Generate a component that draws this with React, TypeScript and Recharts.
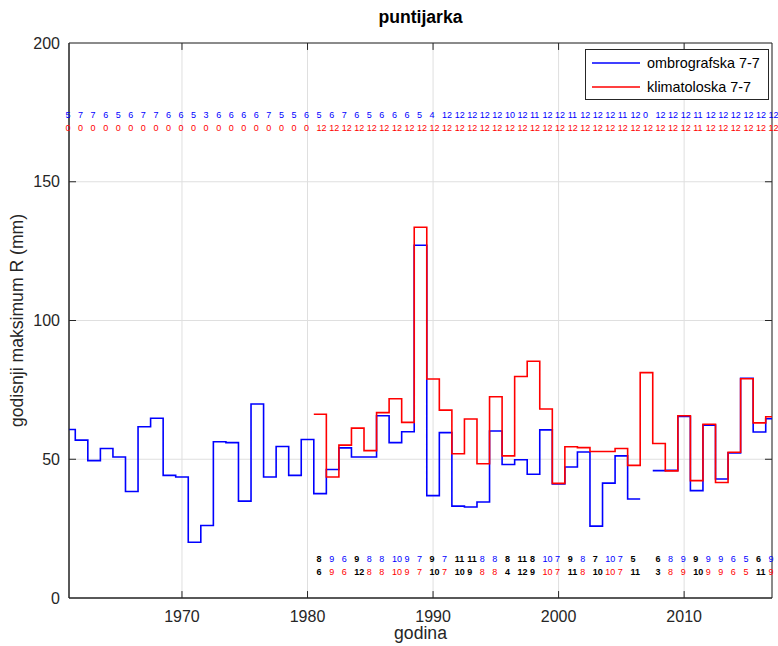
import {
  CartesianGrid,
  ComposedChart,
  Line,
  ReferenceArea,
  ReferenceLine,
  Scatter,
  XAxis,
  YAxis,
} from 'recharts';

const FONT = '"Liberation Sans", Arial, Helvetica, sans-serif';
const AXIS = '#262626';
const BLUE = '#0000ff';
const RED = '#ff0000';
const X_MIN = 1961;
const X_MAX = 2017;

const YEARS = [
  1961, 1962, 1963, 1964, 1965, 1966, 1967, 1968, 1969, 1970,
  1971, 1972, 1973, 1974, 1975, 1976, 1977, 1978, 1979, 1980,
  1981, 1982, 1983, 1984, 1985, 1986, 1987, 1988, 1989, 1990,
  1991, 1992, 1993, 1994, 1995, 1996, 1997, 1998, 1999, 2000,
  2001, 2002, 2003, 2004, 2005, 2006, 2007, 2008, 2009, 2010,
  2011, 2012, 2013, 2014, 2015, 2016, 2017,
];

// godisnji maksimum R (mm)
const OMBRO = [
  60.7, 56.9, 49.5, 53.9, 50.8, 38.4, 61.7, 64.8, 44.2, 43.6,
  20.1, 26.1, 56.3, 56.0, 34.9, 69.9, 43.6, 54.6, 44.2, 57.1,
  37.6, 46.3, 54.1, 50.8, 50.8, 65.7, 56.0, 59.9, 127.1, 36.9,
  59.6, 33.1, 32.8, 34.6, 60.2, 48.1, 49.8, 44.6, 60.6, 41.1,
  47.2, 52.6, 25.9, 41.4, 51.2, 35.7, null, 45.9, 46.0, 65.4,
  38.7, 62.3, 42.9, 52.3, 79.2, 59.8, 64.6,
];
const KLIMA = [
  null, null, null, null, null, null, null, null, null, null,
  null, null, null, null, null, null, null, null, null, null,
  66.2, 43.6, 55.1, 61.2, 53.1, 66.8, 71.8, 63.3, 133.6, 78.9,
  67.7, 52.0, 64.5, 48.4, 72.5, 51.2, 79.8, 85.3, 68.1, 41.3,
  54.5, 54.2, 52.8, 52.8, 53.9, 47.8, 81.2, 55.7, 45.8, 65.7,
  42.3, 62.6, 41.6, 52.5, 79.0, 63.1, 65.3,
];

// broj mjeseci s podacima
const OMBRO_MONTHS = [
  5, 7, 7, 6, 5, 6, 7, 7, 6, 6, 5, 3, 6, 6, 6, 6, 7, 5, 5, 6,
  5, 6, 7, 6, 5, 6, 6, 6, 5, 4, 12, 12, 12, 12, 12, 10, 12, 11, 12, 12,
  11, 12, 12, 12, 11, 12, 0, 12, 12, 12, 11, 12, 12, 12, 12, 12, 12,
];
const KLIMA_MONTHS = [
  0, 0, 0, 0, 0, 0, 0, 0, 0, 0, 0, 0, 0, 0, 0, 0, 0, 0, 0, 0,
  12, 12, 12, 12, 12, 12, 12, 12, 12, 12, 12, 12, 12, 12, 12, 12, 12, 12, 12, 12,
  12, 12, 12, 12, 12, 12, 12, 12, 12, 12, 11, 12, 12, 12, 12, 12, 12,
];

// mjesec pojave maksimuma
const OMBRO_MAXMONTH = [
  null, null, null, null, null, null, null, null, null, null,
  null, null, null, null, null, null, null, null, null, null,
  8, 9, 6, 9, 8, 8, 10, 9, 7, 9, 7, 11, 11, 8, 8, 8, 11, 8, 10, 7,
  9, 8, 7, 10, 7, 5, null, 6, 8, 9, 9, 9, 9, 6, 5, 6, 9,
];
const KLIMA_MAXMONTH = [
  null, null, null, null, null, null, null, null, null, null,
  null, null, null, null, null, null, null, null, null, null,
  6, 9, 6, 12, 8, 8, 10, 9, 7, 10, 7, 10, 9, 8, 8, 4, 12, 9, 10, 7,
  11, 8, 10, 10, 7, 11, null, 3, 8, 9, 10, 9, 9, 6, 5, 11, 9,
];

const X_TICKS = [1970, 1980, 1990, 2000, 2010];
const Y_TICKS = [0, 50, 100, 150, 200];
const ROW_Y = { topBlue: 175, topRed: 170, botBlue: 15, botRed: 10 };

function stairs(vals: Array<number | null>) {
  const pts: Array<{ x: number; y: number | null }> = [];
  YEARS.forEach((yr, i) => {
    const v = vals[i];
    if (v == null) {
      pts.push({ x: yr, y: null });
      return;
    }
    pts.push({ x: Math.max(yr - 0.5, X_MIN), y: v });
    pts.push({ x: Math.min(yr + 0.5, X_MAX), y: v });
  });
  return pts;
}

const ombroSteps = stairs(OMBRO);
const klimaSteps = stairs(KLIMA);

type Lbl = { x: number; y: number; label: string; color: string; bold: boolean };

const topBlue: Lbl[] = YEARS.map((yr, i) => ({ x: yr, y: ROW_Y.topBlue, label: String(OMBRO_MONTHS[i]), color: BLUE, bold: false }));
const topRed: Lbl[] = YEARS.map((yr, i) => ({ x: yr, y: ROW_Y.topRed, label: String(KLIMA_MONTHS[i]), color: RED, bold: false }));
const botBlue: Lbl[] = [];
const botRed: Lbl[] = [];
YEARS.forEach((yr, i) => {
  const b = OMBRO_MAXMONTH[i];
  const r = KLIMA_MAXMONTH[i];
  if (b == null || r == null) return;
  const same = b === r;
  botBlue.push({ x: yr, y: ROW_Y.botBlue, label: String(b), color: same ? BLUE : '#000', bold: !same });
  botRed.push({ x: yr, y: ROW_Y.botRed, label: String(r), color: same ? RED : '#000', bold: !same });
});

const LabelShape = (props: any) => {
  const { cx, cy, payload } = props;
  return (
    <text
      x={cx - 3.5}
      y={cy + 5.2}
      fontSize={9}
      fontFamily={FONT}
      fill={payload.color}
      fontWeight={payload.bold ? 700 : 400}
    >
      {payload.label}
    </text>
  );
};

const YearTick = (props: any) => {
  const { x, y, payload } = props;
  return (
    <text x={x} y={y + 24} textAnchor="middle" fontSize={16} fontFamily={FONT} fill={AXIS}>
      {payload.value}
    </text>
  );
};

export default function App() {
  return (
    <div style={{ position: 'absolute', left: 0, top: 0, width: 778, height: 646, background: '#fff' }}>
      <ComposedChart width={778} height={646} margin={{ top: 43, right: 6, bottom: 0, left: 0 }}>
        <CartesianGrid stroke="#dfdfdf" strokeWidth={1} />
        <XAxis
          type="number"
          dataKey="x"
          domain={[X_MIN, X_MAX]}
          ticks={X_TICKS}
          height={48}
          axisLine={{ stroke: AXIS }}
          tickLine={false}
          tickSize={0}
          tickMargin={0}
          tick={YearTick}
          label={{ value: 'godina', position: 'insideBottom', offset: 7, fill: AXIS, fontSize: 17.6, fontFamily: FONT }}
        />
        <YAxis
          type="number"
          domain={[0, 200]}
          ticks={Y_TICKS}
          width={69}
          axisLine={{ stroke: AXIS }}
          tickLine={false}
          tickSize={4}
          tickMargin={5}
          tick={{ fill: AXIS, fontSize: 16, fontFamily: FONT }}
          label={{
            value: 'godisnji maksimum R (mm)',
            angle: -90,
            position: 'insideLeft',
            offset: 17,
            fill: AXIS,
            fontSize: 17.6,
            fontFamily: FONT,
            style: { textAnchor: 'middle' },
          }}
        />
        <ReferenceArea x1={X_MIN} x2={X_MAX} y1={0} y2={200} fill="none" stroke={AXIS} strokeWidth={1} ifOverflow="visible" />
        {X_TICKS.map((t) => (
          <ReferenceLine key={'b' + t} segment={[{ x: t, y: 0 }, { x: t, y: 2.5 }]} stroke={AXIS} />
        ))}
        {X_TICKS.map((t) => (
          <ReferenceLine key={'t' + t} segment={[{ x: t, y: 200 }, { x: t, y: 197.5 }]} stroke={AXIS} />
        ))}
        {Y_TICKS.slice(1, 4).map((t) => (
          <ReferenceLine key={'l' + t} segment={[{ x: X_MIN, y: t }, { x: X_MIN + 0.56, y: t }]} stroke={AXIS} />
        ))}
        {Y_TICKS.slice(1, 4).map((t) => (
          <ReferenceLine key={'r' + t} segment={[{ x: X_MAX, y: t }, { x: X_MAX - 0.56, y: t }]} stroke={AXIS} />
        ))}
        <Line data={ombroSteps} dataKey="y" type="linear" stroke={BLUE} strokeWidth={1.6} dot={false} isAnimationActive={false} />
        <Line data={klimaSteps} dataKey="y" type="linear" stroke={RED} strokeWidth={1.6} dot={false} isAnimationActive={false} />
        <Scatter data={topBlue} dataKey="y" shape={LabelShape} isAnimationActive={false} />
        <Scatter data={topRed} dataKey="y" shape={LabelShape} isAnimationActive={false} />
        <Scatter data={botBlue} dataKey="y" shape={LabelShape} isAnimationActive={false} />
        <Scatter data={botRed} dataKey="y" shape={LabelShape} isAnimationActive={false} />
        <text x={420.5} y={23} textAnchor="middle" fontSize={17.6} fontWeight={700} fontFamily={FONT} fill="#000">
          puntijarka
        </text>
        <g>
          <rect x={585.5} y={49.5} width={183} height={50} fill="#fff" stroke={AXIS} strokeWidth={1} />
          <line x1={592} x2={640} y1={63} y2={63} stroke={BLUE} strokeWidth={1.6} />
          <line x1={592} x2={640} y1={87} y2={87} stroke={RED} strokeWidth={1.6} />
          <text x={647} y={68} fontSize={14.4} fontFamily={FONT} fill="#000">ombrografska 7-7</text>
          <text x={647} y={92} fontSize={14.4} fontFamily={FONT} fill="#000">klimatoloska 7-7</text>
        </g>
      </ComposedChart>
    </div>
  );
}
